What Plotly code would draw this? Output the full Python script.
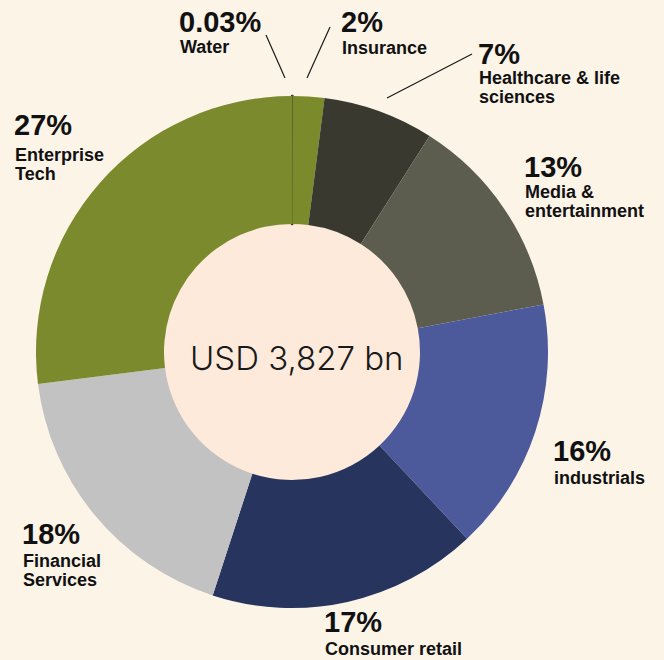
import plotly.graph_objects as go

W, H = 664, 660

sectors = ["Water", "Insurance", "Healthcare & life<br>sciences", "Media &<br>entertainment",
           "industrials", "Consumer retail", "Financial<br>Services", "Enterprise<br>Tech"]
shares = [0.03, 2, 7, 13, 16, 17, 18, 27]
pct_text = ["0.03%", "2%", "7%", "13%", "16%", "17%", "18%", "27%"]
colours = ["#3a3a30", "#7b8a2b", "#3a3930", "#5d5d4f", "#4c5a9c", "#27345e", "#c2c2c2", "#7a8a2c"]
total_label = "USD 3,827 bn"

# label blocks: left edge, centre of % line, centre of first name line (pixels)
label_pos = [(178, 22, 47), (340, 22, 48), (477, 54, 78), (523, 167, 192),
             (552, 451, 478), (323, 622, 649), (21, 534, 561), (13, 125, 155)]

BG = "#fdf4e8"
HOLE_BG = "#fdeadb"
FONT = "Liberation Sans"
LINE_GAP = 19

cx, cy, r = 292, 352, 256


def px(x, y):
    return x / W, 1 - y / H


fig = go.Figure()
fig.add_pie(
    labels=sectors, values=shares, sort=False, direction="clockwise", rotation=0,
    hole=0.5, textinfo="none", hoverinfo="label+percent",
    marker={"colors": colours,
            "line": {"color": ["#3a3a30"] + ["rgba(0,0,0,0)"] * 7,
                     "width": [2.5] + [0] * 7}},
    domain={"x": [(cx - r) / W, (cx + r) / W], "y": [1 - (cy + r) / H, 1 - (cy - r) / H]},
    showlegend=False,
)

annotations = []
for name, pct, (x, yp, yn) in zip(sectors, pct_text, label_pos):
    ax, ay = px(x - 1, yp)
    annotations.append(dict(x=ax, y=ay, xref="paper", yref="paper", text=f"<b>{pct}</b>",
                            showarrow=False, xanchor="left", yanchor="middle",
                            font={"family": FONT, "size": 29, "color": "#111111"}))
    for i, line in enumerate(name.split("<br>")):
        ax, ay = px(x, yn + i * LINE_GAP)
        annotations.append(dict(x=ax, y=ay, xref="paper", yref="paper", text=f"<b>{line}</b>",
                                showarrow=False, xanchor="left", yanchor="middle",
                                font={"family": FONT, "size": 18, "color": "#111111"}))

ax, ay = px(296, 358)
annotations.append(dict(x=ax, y=ay, xref="paper", yref="paper", text=total_label,
                        showarrow=False, xanchor="center", yanchor="middle",
                        font={"family": "Inter", "size": 33, "color": "#1a1a1a", "weight": 300}))

# leader lines for the thin slices at the top
leaders = [((266, 35), (285, 78)), ((330, 27), (307, 78)), ((472, 54), (387, 98))]
shapes = []
hr = 129
x0, y0 = px(cx - hr, cy + hr)
x1, y1 = px(cx + hr, cy - hr)
shapes.append(dict(type="circle", xref="paper", yref="paper", x0=x0, y0=y0, x1=x1, y1=y1,
                   fillcolor=HOLE_BG, line={"width": 0}, layer="below"))
for (a, b) in leaders:
    xa, ya = px(*a)
    xb, yb = px(*b)
    shapes.append(dict(type="line", xref="paper", yref="paper", x0=xa, y0=ya, x1=xb, y1=yb,
                       line={"color": "#1a1a1a", "width": 1.2}))

fig.update_layout(
    width=W, height=H, margin={"l": 0, "r": 0, "t": 0, "b": 0},
    paper_bgcolor=BG, plot_bgcolor=BG,
    annotations=annotations, shapes=shapes,
)

fig.write_html("out.html", config={"displayModeBar": False},
               post_script="document.body.style.margin='0';"
                           "document.body.style.background='" + BG + "';")
